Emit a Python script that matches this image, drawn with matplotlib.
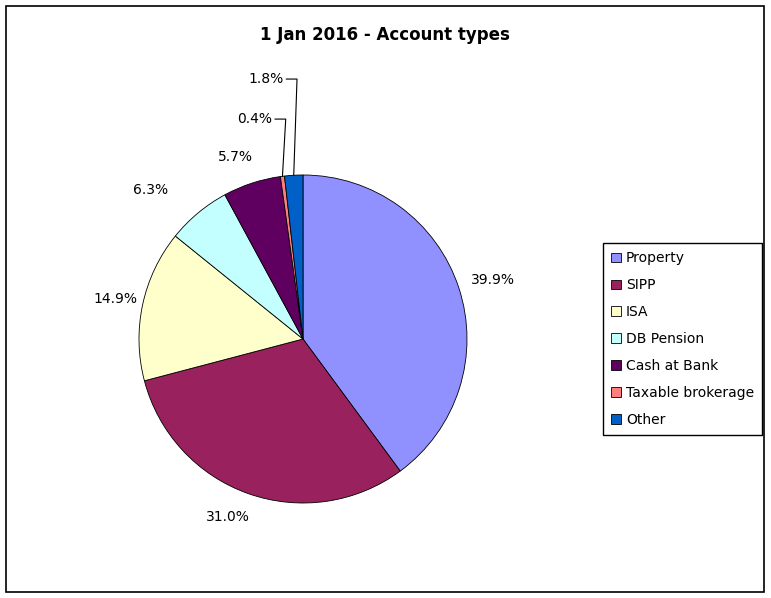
import numpy as np
import matplotlib
matplotlib.use("Agg")
import matplotlib.pyplot as plt
from matplotlib.patches import Rectangle

# data
labels = ['Property', 'SIPP', 'ISA', 'DB Pension', 'Cash at Bank', 'Taxable brokerage', 'Other']
shares = [39.9, 31.0, 14.9, 6.3, 5.7, 0.4, 1.8]
colors = ['#9090FF', '#99225E', '#FFFFCC', '#C4FFFF', '#5F0060', '#FF7F7F', '#0060C8']
title = '1 Jan 2016 - Account types'

plt.rcParams['font.family'] = ['DejaVu Sans']

W, H = 771, 598
fig = plt.figure(figsize=(W / 100, H / 100), dpi=100)

# outer border like the Excel chart area
fig.add_artist(Rectangle((6 / W, 6 / H), (764 - 6) / W, (592 - 6) / H,
                         transform=fig.transFigure, fill=False, edgecolor='black', linewidth=1.2))

# pie axes: centre (303, 339) px, radius 164 px
cx, cy, r = 303, 339, 164
ax = fig.add_axes([(cx - r) / W, (H - cy - r) / H, 2 * r / W, 2 * r / H])
wedges, _ = ax.pie(shares, colors=colors, startangle=90, counterclock=False, radius=1,
                   wedgeprops=dict(edgecolor='black', linewidth=0.6))
ax.set_xlim(-1, 1)
ax.set_ylim(-1, 1)
ax.set_aspect('auto')
ax.axis('off')

# label distance (radii) and angle nudge (deg) for the normal labels
label_dist = [1.21, 1.18, 1.17, 1.30, 1.185, None, None]
label_nudge = [-1, -3.4, 0, 6, 2.3, 0, 0]
# small slices get leader lines up to a label height
leader_y = [None, None, None, None, None, 1.341, 1.585]

for w, s, d, n, ly in zip(wedges, shares, label_dist, label_nudge, leader_y):
    mid = np.deg2rad((w.theta1 + w.theta2) / 2)
    txt = f'{s:.1f}%'
    if d is not None:
        a = mid + np.deg2rad(n)
        ax.text(d * np.cos(a), d * np.sin(a), txt, ha='center', va='center', fontsize=10)
    else:
        ex, ey = np.cos(mid), np.sin(mid)
        elbow_x = ex + 0.02
        end_x = elbow_x - 0.065
        ax.plot([ex, elbow_x, end_x], [ey, ly, ly], color='black', linewidth=0.8, clip_on=False)
        ax.text(end_x - 0.015, ly, txt, ha='right', va='center', fontsize=10)

fig.text(385 / W, 1 - 35 / H, title, ha='center', va='center', fontsize=12, fontweight='bold')

leg = fig.legend(wedges, labels, loc='upper left',
                 bbox_to_anchor=(603 / W, 1 - 243 / H), fontsize=10,
                 handlelength=0.7, handleheight=0.7, handletextpad=0.35,
                 labelspacing=0.93, borderpad=0.6, fancybox=False,
                 edgecolor='black', framealpha=1, borderaxespad=0)
leg.get_frame().set_linewidth(1.0)

fig.savefig('out.png', dpi=100)
